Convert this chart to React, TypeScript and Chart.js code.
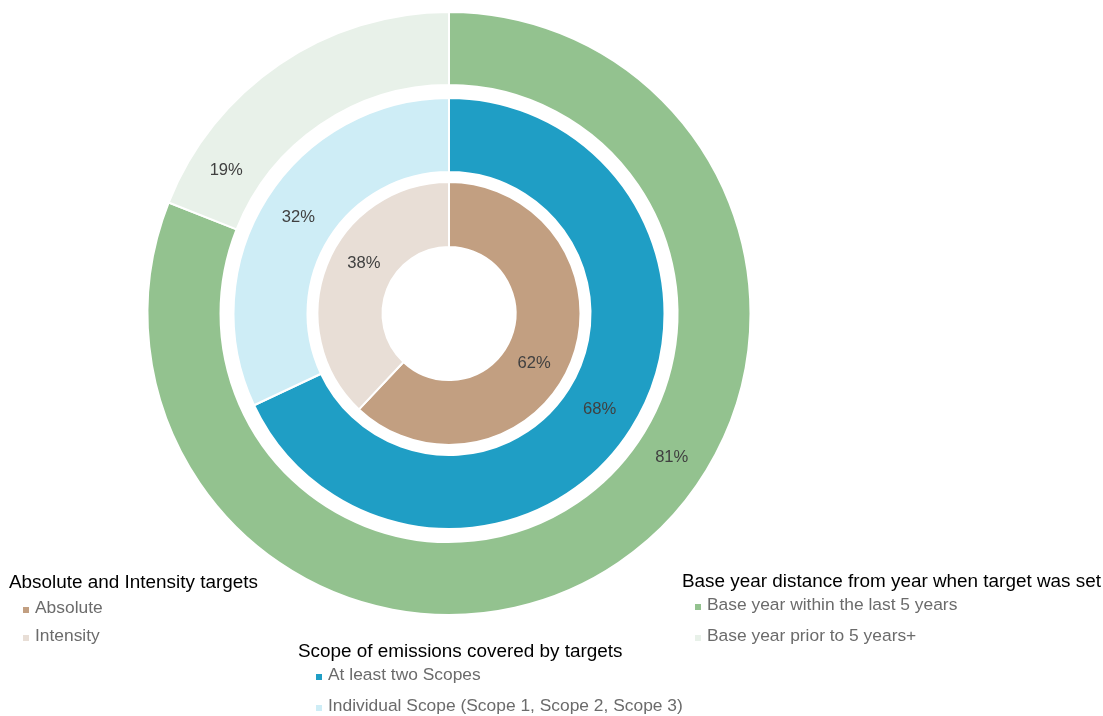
import React, { useEffect, useRef } from "react";
import { Chart, registerables } from "chart.js";

Chart.register(...registerables);

const outerLabels = ["Base year within the last 5 years", "Base year prior to 5 years+"];
const outerValues = [81, 19];
const middleLabels = ["At least two Scopes", "Individual Scope (Scope 1, Scope 2, Scope 3)"];
const middleValues = [68, 32];
const innerLabels = ["Absolute", "Intensity"];
const innerValues = [62, 38];

const outerTitle = "Base year distance from year when target was set";
const middleTitle = "Scope of emissions covered by targets";
const innerTitle = "Absolute and Intensity targets";

const outerColors = ["#93C28F", "#E8F1E9"];
const middleColors = ["#1F9EC5", "#CEEDF6"];
const innerColors = ["#C29F81", "#E8DED6"];

const FONT = '"Liberation Sans", Arial, sans-serif';

// label angle shift (degrees) per ring, in the way the original places them
const labelShift: Record<number, number> = { 0: -23, 2: 0, 4: 9 };

const legendBlocks = [
  { title: innerTitle, labels: innerLabels, colors: innerColors, x: 9, titleY: 588, itemX: 35, itemY: [613, 641] },
  { title: middleTitle, labels: middleLabels, colors: middleColors, x: 298, titleY: 657, itemX: 328, itemY: [680, 711] },
  { title: outerTitle, labels: outerLabels, colors: outerColors, x: 682, titleY: 587, itemX: 707, itemY: [610, 641] },
];

const pctLabelPlugin = {
  id: "pctLabels",
  afterDatasetsDraw(chart: any) {
    const ctx = chart.ctx;
    ctx.save();
    ctx.font = `16.6px ${FONT}`;
    ctx.fillStyle = "#404040";
    ctx.textAlign = "center";
    ctx.textBaseline = "middle";
    chart.data.datasets.forEach((ds: any, di: number) => {
      if (ds.spacer) return;
      const meta = chart.getDatasetMeta(di);
      meta.data.forEach((arc: any, i: number) => {
        const p = arc.getProps(["x", "y", "startAngle", "endAngle", "innerRadius", "outerRadius"], true);
        const a = (p.startAngle + p.endAngle) / 2 + ((labelShift[di] || 0) * Math.PI) / 180;
        const r = (p.innerRadius + p.outerRadius) / 2;
        ctx.fillText(ds.data[i] + "%", p.x + Math.cos(a) * r, p.y + Math.sin(a) * r);
      });
    });
    ctx.restore();
  },
};

const legendPlugin = {
  id: "groupLegends",
  afterDraw(chart: any) {
    const ctx = chart.ctx;
    ctx.save();
    ctx.textAlign = "left";
    ctx.textBaseline = "alphabetic";
    legendBlocks.forEach((b) => {
      ctx.font = `18.9px ${FONT}`;
      ctx.fillStyle = "#000000";
      ctx.fillText(b.title, b.x, b.titleY);
      ctx.font = `17.4px ${FONT}`;
      b.labels.forEach((lab, i) => {
        ctx.fillStyle = b.colors[i];
        ctx.fillRect(b.itemX - 12, b.itemY[i] - 6, 6, 6);
        ctx.fillStyle = "#6b6b6b";
        ctx.fillText(lab, b.itemX, b.itemY[i]);
      });
    });
    ctx.restore();
  },
};

export default function App() {
  const ref = useRef<HTMLCanvasElement | null>(null);
  useEffect(() => {
    if (!ref.current) return;
    const spacer = (w: number) => ({
      data: [1],
      backgroundColor: ["rgba(0,0,0,0)"],
      borderWidth: 0,
      weight: w,
      spacer: true,
    });
    const chart = new Chart(ref.current, {
      type: "doughnut",
      data: {
        labels: ["a", "b"],
        datasets: [
          { data: outerValues, backgroundColor: outerColors, borderColor: "#ffffff", borderWidth: 2, weight: 73 } as any,
          spacer(13) as any,
          { data: middleValues, backgroundColor: middleColors, borderColor: "#ffffff", borderWidth: 2, weight: 74 } as any,
          spacer(10) as any,
          { data: innerValues, backgroundColor: innerColors, borderColor: "#ffffff", borderWidth: 2, weight: 65 } as any,
        ],
      },
      options: {
        responsive: false,
        animation: false,
        events: [],
        cutout: 66.5,
        layout: { padding: { left: 146.5, right: 351.5, top: 11, bottom: 100 } },
        plugins: { legend: { display: false }, tooltip: { enabled: false } },
      } as any,
      plugins: [pctLabelPlugin, legendPlugin],
    });
    return () => chart.destroy();
  }, []);
  return (
    <div style={{ position: "absolute", left: 0, top: 0, width: 1103, height: 716, background: "#fff" }}>
      <canvas ref={ref} width={1103} height={716} style={{ width: 1103, height: 716, display: "block" }} />
    </div>
  );
}
